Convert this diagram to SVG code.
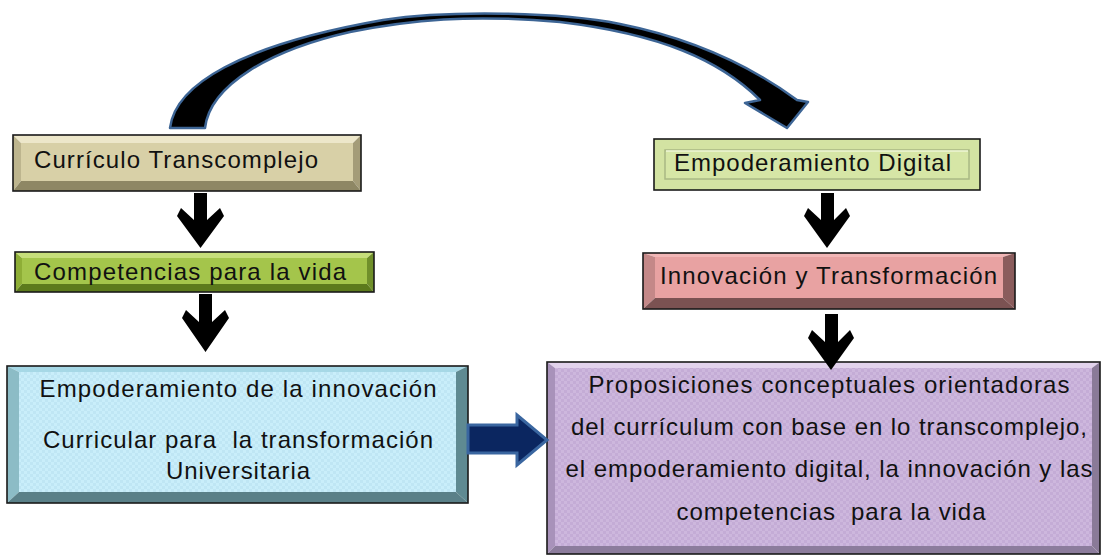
<svg xmlns="http://www.w3.org/2000/svg" width="1103" height="557" viewBox="0 0 1103 557">
<defs>
<style>
.t{font-family:"Liberation Sans",Arial,sans-serif;font-size:24px;fill:#111;}
.bd{fill:none;stroke:#1a1a1a;stroke-width:1.6;}
.dn{fill:#000;}
</style>
<pattern id="chkB" width="6" height="6" patternUnits="userSpaceOnUse">
<rect width="6" height="6" fill="#c9eefa"/>
<rect width="3" height="3" fill="#bfe6f4"/>
<rect x="3" y="3" width="3" height="3" fill="#bfe6f4"/>
</pattern>
<pattern id="chkP" width="6" height="6" patternUnits="userSpaceOnUse">
<rect width="6" height="6" fill="#cdb7dd"/>
<rect width="3" height="3" fill="#c4acd6"/>
<rect x="3" y="3" width="3" height="3" fill="#c4acd6"/>
</pattern>
</defs>
<rect width="1103" height="557" fill="#fff"/>

<g id="node-curriculo">
<polygon points="13,135 361,135 353,143 21,143" fill="#ede7ca"/>
<polygon points="13,135 21,143 21,181 13,191" fill="#bdb58e"/>
<polygon points="361,135 361,191 353,181 353,143" fill="#a49c78"/>
<polygon points="13,191 361,191 353,181 21,181" fill="#8e8764"/>
<rect x="21" y="143" width="332" height="38" fill="#d8d0a7"/>
<rect x="13" y="135" width="348" height="56" class="bd"/>
<text class="t" x="34" y="168" textLength="284" lengthAdjust="spacing">Currículo Transcomplejo</text>
</g>

<g id="node-empoderamiento-digital">
<rect x="654" y="139" width="326" height="51" fill="#d3e3a2"/>
<rect x="665" y="150" width="304" height="29" fill="#d6e6a6" stroke="#a9b884" stroke-width="1.5"/>
<line x1="666" y1="151" x2="968" y2="151" stroke="#eef6d4" stroke-width="1.5"/>
<rect x="654" y="139" width="326" height="51" class="bd"/>
<text class="t" x="674" y="171" textLength="277" lengthAdjust="spacing">Empoderamiento Digital</text>
</g>

<g id="node-competencias">
<polygon points="15,252 374,252 367,258 22,258" fill="#c6de7a"/>
<polygon points="15,252 22,258 22,284 15,292" fill="#8eae36"/>
<polygon points="374,252 374,292 367,284 367,258" fill="#70902a"/>
<polygon points="15,292 374,292 367,284 22,284" fill="#5c7a1c"/>
<rect x="22" y="258" width="345" height="26" fill="#a4c54b"/>
<rect x="15" y="252" width="359" height="40" class="bd"/>
<text class="t" x="34" y="280" textLength="312" lengthAdjust="spacing">Competencias para la vida</text>
</g>

<g id="node-empoderamiento-innovacion">
<polygon points="7,366 468,366 456,372 19,372" fill="#a6d8e6"/>
<polygon points="7,366 19,372 19,492 7,503" fill="#8cbcc6"/>
<polygon points="468,366 468,503 456,492 456,372" fill="#5f8a92"/>
<polygon points="7,503 468,503 456,492 19,492" fill="#5a8088"/>
<rect x="19" y="372" width="437" height="120" fill="url(#chkB)"/>
<rect x="7" y="366" width="461" height="137" class="bd"/>
<text class="t" x="238" y="397" text-anchor="middle" textLength="397" lengthAdjust="spacing">Empoderamiento de la innovación</text>
<text class="t" x="238" y="448" text-anchor="middle" textLength="390" lengthAdjust="spacing" xml:space="preserve">Curricular para  la transformación</text>
<text class="t" x="238" y="479" text-anchor="middle" textLength="144" lengthAdjust="spacing">Universitaria</text>
</g>

<g id="node-innovacion-transformacion">
<polygon points="643,253 1015,253 1003,257 655,257" fill="#f2b6b6"/>
<polygon points="643,253 655,257 655,298 643,309" fill="#c48888"/>
<polygon points="1015,253 1015,309 1003,298 1003,257" fill="#8a5c5c"/>
<polygon points="643,309 1015,309 1003,298 655,298" fill="#7b5252"/>
<rect x="655" y="257" width="348" height="41" fill="#e8a2a2"/>
<rect x="643" y="253" width="372" height="56" class="bd"/>
<text class="t" x="660" y="284" textLength="337" lengthAdjust="spacing">Innovación y Transformación</text>
</g>

<g id="node-proposiciones">
<polygon points="547,362 1100,362 1092,368 555,368" fill="#e2d2ec"/>
<polygon points="547,362 555,368 555,546 547,554" fill="#a892ba"/>
<polygon points="1100,362 1100,554 1092,546 1092,368" fill="#8a7a98"/>
<polygon points="547,554 1100,554 1092,546 555,546" fill="#8c7c9c"/>
<rect x="555" y="368" width="537" height="178" fill="url(#chkP)"/>
<rect x="547" y="362" width="553" height="192" class="bd"/>
<text class="t" x="829" y="393" text-anchor="middle" textLength="481" lengthAdjust="spacing">Proposiciones conceptuales orientadoras</text>
<text class="t" x="829" y="435" text-anchor="middle" textLength="516" lengthAdjust="spacing">del currículum con base en lo transcomplejo,</text>
<text class="t" x="829" y="477" text-anchor="middle" textLength="527" lengthAdjust="spacing">el empoderamiento digital, la innovación y las</text>
<text class="t" x="831" y="520" text-anchor="middle" textLength="309" lengthAdjust="spacing" xml:space="preserve">competencias  para la vida</text>
</g>

<g id="connectors">
<path d="M170,128 C175,85 240,45 383,20 C450,10 560,12 620,24 C680,36 740,58 797,100 L808,102 L787,128 L745,103 L760,100 C720,60 660,34 560,22 C470,14 410,20 350,32 C270,50 210,85 205,128 Z" fill="#000" stroke="#3d6595" stroke-width="2.5" stroke-linejoin="round"/>
<path class="dn" d="M194,193 H207 V220 L220,208 L224,216 L200.5,248 L177,216 L181,208 L194,220 Z"/>
<path class="dn" d="M199,294 H212 V322 L225,310 L229,318 L205.5,352 L182,318 L186,310 L199,322 Z"/>
<path class="dn" d="M821,193 H834 V220 L846,208 L850,216 L827,248 L804,216 L808,208 L821,220 Z"/>
<path class="dn" d="M825,314 H838 V342 L850,330 L854,338 L831,370 L808,338 L812,330 L825,342 Z"/>
<path d="M468,425 H517 V415 L547,440 L517,465 V453 H468 Z" fill="#0b2660" stroke="#3a66a0" stroke-width="3" stroke-linejoin="miter"/>
</g>
</svg>
